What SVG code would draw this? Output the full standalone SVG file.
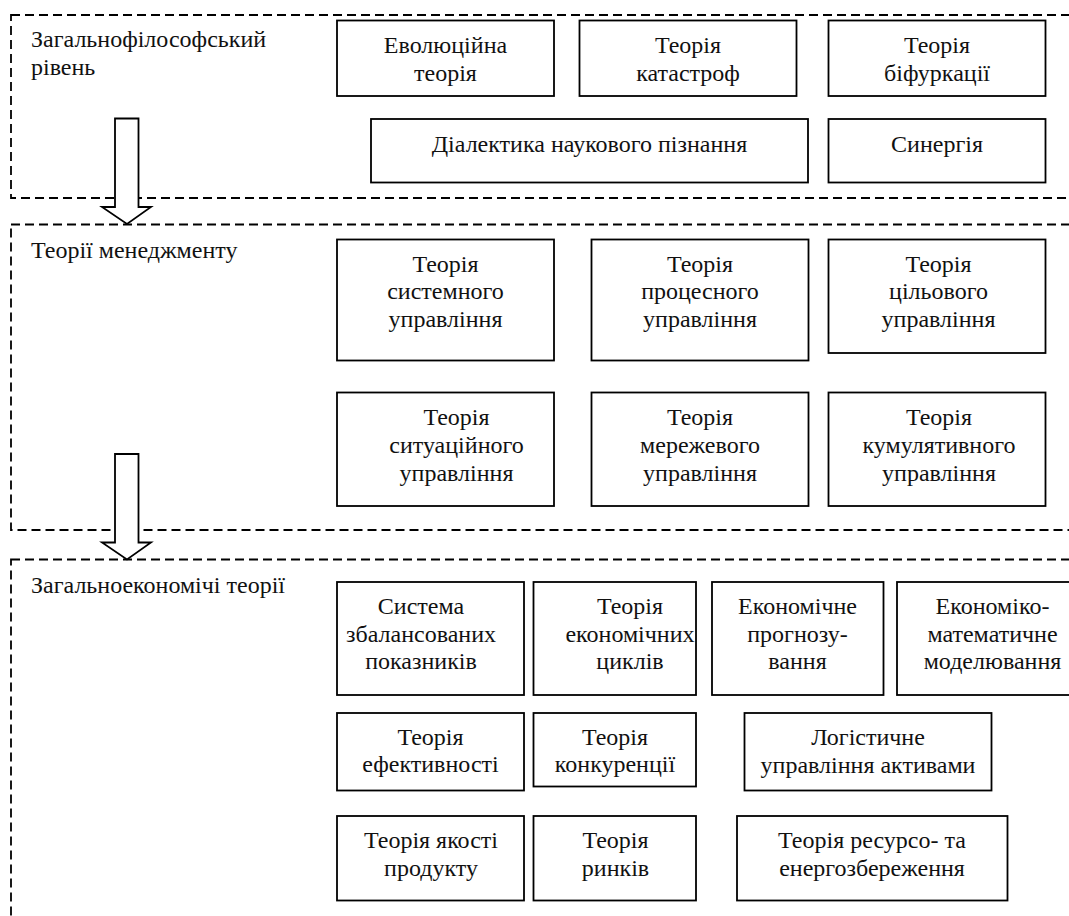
<svg xmlns="http://www.w3.org/2000/svg" width="1069" height="916" viewBox="0 0 1069 916">
<style>
.frame{fill:none;stroke:#000;stroke-width:1.8;stroke-dasharray:9 5}
.box{fill:#fff;stroke:#000;stroke-width:1.8}
.arrow{fill:#fff;stroke:#000;stroke-width:1.8;stroke-linejoin:miter}
.c{text-anchor:middle}
</style>
<rect width="1069" height="916" fill="#fff"/>
<g font-family="'Liberation Serif', 'Times New Roman', 'DejaVu Serif', serif" font-size="24" fill="#111">
<g id="levels">
<g id="level1"><rect class="frame" x="11" y="15" width="1080" height="183"/>
<text x="31" y="47">Загальнофілософський</text><text x="31" y="75">рівень</text></g>
<g id="level2"><rect class="frame" x="11" y="224.5" width="1080" height="305.5"/>
<text x="31" y="258">Теорії менеджменту</text></g>
<g id="level3"><rect class="frame" x="11" y="559.5" width="1080" height="400"/>
<text x="31" y="593">Загальноекономічі теорії</text></g>
</g>
<g id="connectors">
<polygon class="arrow" points="115,118.5 138.5,118.5 138.5,207 151,207 127,224 102,207 115,207"/>
<polygon class="arrow" points="115,454 138.5,454 138.5,542.5 151,542.5 127,559.5 102,542.5 115,542.5"/>
</g>
<g id="n-evol"><rect class="box" x="337" y="20.5" width="217" height="75.5"/>
<text class="c" x="445.5" y="53">Еволюційна</text><text class="c" x="445.5" y="80.5">теорія</text></g>
<g id="n-katastrof"><rect class="box" x="579.5" y="20.5" width="217" height="75.5"/>
<text class="c" x="688" y="53">Теорія</text><text class="c" x="688" y="80.5">катастроф</text></g>
<g id="n-bifurk"><rect class="box" x="828.5" y="20.5" width="217" height="75.5"/>
<text class="c" x="937" y="53">Теорія</text><text class="c" x="937" y="80.5">біфуркації</text></g>
<g id="n-dialekt"><rect class="box" x="371" y="119" width="437" height="63.5"/>
<text class="c" x="589.5" y="152">Діалектика наукового пізнання</text></g>
<g id="n-synerg"><rect class="box" x="828.5" y="119" width="217" height="63.5"/>
<text class="c" x="937" y="152">Синергія</text></g>

<g id="n-system"><rect class="box" x="337" y="239.5" width="217" height="121"/>
<text class="c" x="445.5" y="271.5">Теорія</text><text class="c" x="445.5" y="299">системного</text><text class="c" x="445.5" y="326.5">управління</text></g>
<g id="n-proces"><rect class="box" x="591.5" y="239.5" width="217" height="121"/>
<text class="c" x="700" y="271.5">Теорія</text><text class="c" x="700" y="299">процесного</text><text class="c" x="700" y="326.5">управління</text></g>
<g id="n-cil"><rect class="box" x="828.5" y="239.5" width="217" height="113.5"/>
<text class="c" x="938.5" y="271.5">Теорія</text><text class="c" x="938.5" y="299">цільового</text><text class="c" x="938.5" y="326.5">управління</text></g>
<g id="n-sytuac"><rect class="box" x="337" y="392.5" width="217" height="113.5"/>
<text class="c" x="456.5" y="425">Теорія</text><text class="c" x="456.5" y="452.5">ситуаційного</text><text class="c" x="456.5" y="480.5">управління</text></g>
<g id="n-merezh"><rect class="box" x="591.5" y="392.5" width="217" height="113.5"/>
<text class="c" x="700" y="425">Теорія</text><text class="c" x="700" y="452.5">мережевого</text><text class="c" x="700" y="480.5">управління</text></g>
<g id="n-kumul"><rect class="box" x="828.5" y="392.5" width="217" height="113.5"/>
<text class="c" x="939" y="425">Теорія</text><text class="c" x="939" y="452.5">кумулятивного</text><text class="c" x="939" y="480.5">управління</text></g>

<g id="n-bsc"><rect class="box" x="337" y="582" width="187" height="113"/>
<text class="c" x="421" y="614">Система</text><text class="c" x="421" y="641.5">збалансованих</text><text class="c" x="421" y="669">показників</text></g>
<g id="n-cycles"><rect class="box" x="533.5" y="582" width="162.5" height="113"/>
<text class="c" x="630" y="614">Теорія</text><text class="c" x="630" y="641.5">економічних</text><text class="c" x="630" y="669">циклів</text></g>
<g id="n-forecast"><rect class="box" x="712" y="582" width="171.5" height="113"/>
<text class="c" x="797.5" y="614">Економічне</text><text class="c" x="797.5" y="641.5">прогнозу-</text><text class="c" x="797.5" y="669">вання</text></g>
<g id="n-model"><rect class="box" x="897" y="582" width="192" height="113"/>
<text class="c" x="992.5" y="614">Економіко-</text><text class="c" x="992.5" y="641.5">математичне</text><text class="c" x="992.5" y="669">моделювання</text></g>
<g id="n-efekt"><rect class="box" x="337" y="713" width="187" height="77.5"/>
<text class="c" x="430.5" y="745">Теорія</text><text class="c" x="430.5" y="772">ефективності</text></g>
<g id="n-konkur"><rect class="box" x="533.5" y="713" width="162.5" height="73.5"/>
<text class="c" x="615" y="745">Теорія</text><text class="c" x="615" y="772">конкуренції</text></g>
<g id="n-logist"><rect class="box" x="744.5" y="713" width="247" height="77.5"/>
<text class="c" x="868" y="745">Логістичне</text><text class="c" x="868" y="772.5">управління активами</text></g>
<g id="n-quality"><rect class="box" x="337" y="816" width="187" height="84.5"/>
<text class="c" x="431" y="847.5">Теорія якості</text><text class="c" x="431" y="875.5">продукту</text></g>
<g id="n-markets"><rect class="box" x="533.5" y="816" width="162.5" height="84.5"/>
<text class="c" x="615.5" y="847.5">Теорія</text><text class="c" x="615.5" y="875.5">ринків</text></g>
<g id="n-resource"><rect class="box" x="737" y="816" width="270.5" height="84.5"/>
<text class="c" x="872" y="847.5">Теорія ресурсо- та</text><text class="c" x="872" y="875.5">енергозбереження</text></g>
</g>
</svg>
